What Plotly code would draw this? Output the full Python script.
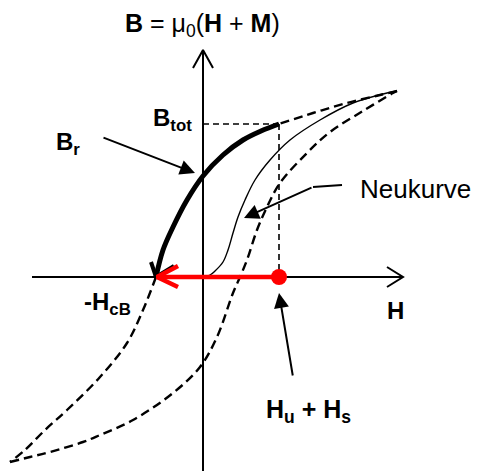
import plotly.graph_objects as go

# H / B coordinates (origin where the axes cross)
# descending branch of the major loop, split in three parts
top_dash_h = [194, 177, 144, 110, 76]
top_dash_b = [186, 182, 174, 164, 153]
recoil_h = [76, 58, 40, 20, 0, -16, -30, -40, -47]
recoil_b = [153, 146, 137, 122, 101, 77, 50, 27, 0]
low_dash_h = [-47, -60, -76, -103, -136, -158, -178, -193]
low_dash_b = [0, -33, -66, -100, -133, -153, -173, -185]

# ascending branch of the major loop
asc_h = [-193, -173, -153, -120, -103, -70, -30, -3, 14, 30, 37, 44, 54, 64, 77, 104, 127, 160, 190, 194]
asc_b = [-185, -180, -175, -165, -158, -143, -116, -90, -60, -16, 0, 17, 47, 70, 94, 124, 145, 166, 184, 186]

# initial magnetisation curve (Neukurve)
neu_h = [0, 7, 12, 20, 25, 30, 35, 42, 52, 67, 87, 117, 150, 184, 194]
neu_b = [0, 2, 6, 15, 27, 44, 60, 77, 97, 117, 137, 157, 174, 184, 186]

h_tot = 76      # H_u + H_s
b_tot = 153     # B_tot
h_cb = -46      # -H_cB

font = "Liberation Sans, Arial, sans-serif"
fig = go.Figure()

def line(x, y, color="black", width=2, dash=None, shape="linear"):
    fig.add_trace(go.Scatter(x=x, y=y, mode="lines", hoverinfo="skip",
                             line=dict(color=color, width=width, dash=dash, shape=shape)))

# axes with open arrow heads
line([0, 0], [-194, 227])
line([-10, 0, 10], [209, 227, 209])
line([-171, 200], [0, 0])
line([184, 200, 184], [10, 0, -10])

# hysteresis loop
dash = "9px,5px"
line(top_dash_h, top_dash_b, width=2.4, dash=dash, shape="spline")
line(low_dash_h, low_dash_b, width=2.4, dash=dash, shape="spline")
line(asc_h, asc_b, width=2.4, dash=dash, shape="spline")
line(neu_h, neu_b, width=1.4, shape="spline")

# B_tot / H marker lines
line([0, h_tot], [b_tot, b_tot], width=1.6, dash="6px,4px")
line([h_tot, h_tot], [b_tot, 0], width=1.6, dash="6px,4px")

# thick recoil curve with open head
line(recoil_h, recoil_b, width=5, shape="spline")
line([-52, h_cb - 1, -29], [15, 0, 11], width=4)

# red arrow from operating point to -H_cB
line([h_tot, h_cb], [0, 0], color="#ff0000", width=4.5)
line([-25, h_cb, -25], [11, 0, -10], color="#ff0000", width=4.5)
fig.add_trace(go.Scatter(x=[h_tot], y=[0], mode="markers", hoverinfo="skip",
                         marker=dict(color="#ff0000", size=16)))

# pointer lines with filled heads
line([139, 110], [92, 90], width=2)
pointers = [(-8, 104, -101, 140), (41, 59, 110, 90), (76, -16, 90, -100)]
for x, y, ax, ay in pointers:
    fig.add_annotation(x=x, y=y, ax=ax, ay=ay, xref="x", yref="y", axref="x", ayref="y",
                       text="", showarrow=True, arrowhead=2, arrowsize=1.5,
                       arrowwidth=2, arrowcolor="black")

labels = [
    ("<b>B</b> = μ<sub>0</sub>(<b>H</b> + <b>M</b>)", -1, 252, 25),
    ("<b>B<sub>tot</sub></b>", -31, 158, 24),
    ("<b>B<sub>r</sub></b>", -135, 134, 24),
    ("Neukurve", 212, 88, 26),
    ("<b>-H<sub>cB</sub></b>", -96, -26, 24),
    ("<b>H</b>", 192, -33, 24),
    ("<b>H<sub>u</sub> + H<sub>s</sub></b>", 105, -134, 25),
]
for txt, x, y, size in labels:
    fig.add_annotation(x=x, y=y, xref="x", yref="y", text=txt, showarrow=False,
                       font=dict(family=font, size=size, color="black"))

# the page body has an 8px margin, so the figure is 8px smaller and starts at (8, 8)
fig.update_layout(width=473, height=463, margin=dict(l=0, r=0, t=0, b=0),
                  showlegend=False, plot_bgcolor="white", paper_bgcolor="white",
                  font=dict(family=font))
fig.update_xaxes(range=[-195, 278], visible=False)
fig.update_yaxes(range=[-194, 269], visible=False)
fig.write_html("out.html", config={"displayModeBar": False})
